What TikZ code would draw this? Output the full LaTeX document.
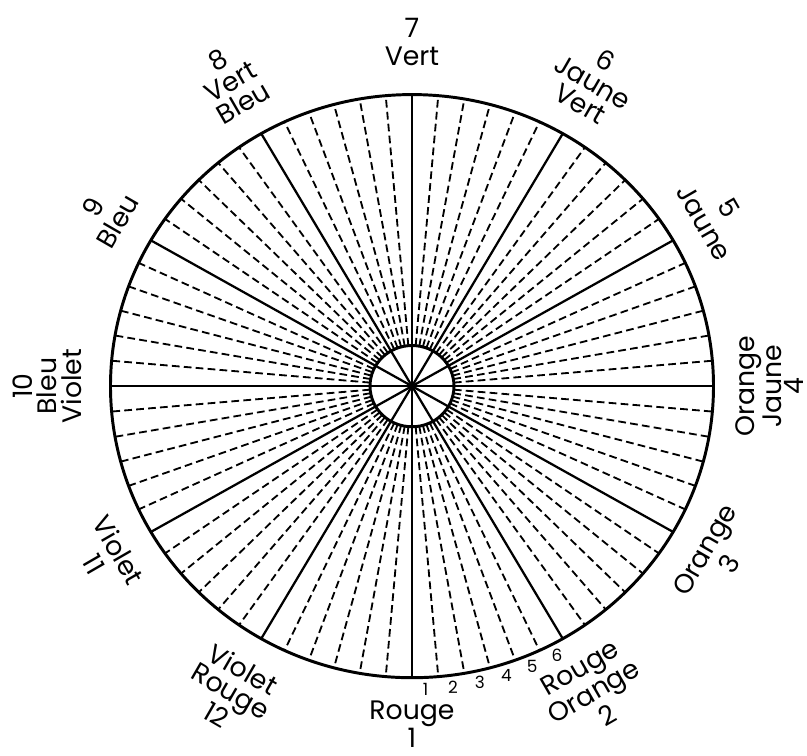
\documentclass[tikz,border=0pt]{standalone}
\usepackage{fontspec}
\setmainfont{Poppins}
\begin{document}
\begin{tikzpicture}[x=0.025cm, y=0.02417cm,
  spoke/.style={line width=1.6pt},
  dashspoke/.style={line width=1.3pt, dash pattern=on 5.5pt off 3pt},
  rim/.style={line width=2.1pt},
  colourlabel/.style={font=\fontsize{19}{20}\selectfont, align=center, inner sep=0pt},
  tightlabel/.style={colourlabel, font=\fontsize{19}{17.5}\selectfont},
  sectnum/.style={font=\fontsize{12}{12}\selectfont, inner sep=0pt}]
  \useasboundingbox (-412,-381.7) rectangle (395,399.3);
  % --- eger: 12 hoved- og 60 underdelinger ---
  \foreach \s in {0,...,11}
    \foreach \k in {1,...,5}
      \draw[dashspoke] (\s*30+\k*5:42) -- (\s*30+\k*5:301.5);
  \foreach \a in {0,30,...,330}
    \draw[spoke] (0,0) -- (\a:301.5);
  \draw[rim] (0,0) circle[radius=301.5];
  \draw[rim] (0,0) circle[radius=42];
  % --- farvenavne ---
  \node[colourlabel, rotate=90,  anchor=north, font=\fontsize{19}{16}\selectfont]
                                   (orangejaune) at (0:323)   {Orange\\Jaune\\4};
  \node[colourlabel, rotate=-60, anchor=south] (jaune)       at (30:328)  {5\\Jaune};
  \node[tightlabel,  rotate=-30, anchor=south] (jaunevert)   at (60:327)  {6\\Jaune\\Vert};
  \node[colourlabel, rotate=0,   anchor=south] (vert)        at (90:331)  {7\\Vert};
  \node[tightlabel,  rotate=30,  anchor=south] (vertbleu)    at (120:328) {8\\Vert\\Bleu};
  \node[colourlabel, rotate=60,  anchor=south] (bleu)        at (150:330) {9\\Bleu};
  \node[tightlabel,  rotate=90,  anchor=south] (bleuviolet)  at (180:330) {10\\Bleu\\Violet};
  \node[colourlabel, rotate=-60, anchor=north] (violet)      at (210:328) {Violet\\11};
  \node[tightlabel,  rotate=-30, anchor=north] (violetrouge) at (240:327) {Violet\\Rouge\\12};
  \node[colourlabel, rotate=0,   anchor=north] (rouge)       at (270:325) {Rouge\\1};
  \node[tightlabel,  rotate=30,  anchor=north] (rougeorange) at (300:326) {Rouge\\Orange\\2};
  \node[colourlabel, rotate=60,  anchor=north] (orange)      at (330:328) {Orange\\3};
  % --- underdelingernes numre ---
  \foreach \k in {1,...,6}
    \node[sectnum] (sect\k) at ({-92.5+5*\k}:314) {\k};
\end{tikzpicture}
\end{document}
